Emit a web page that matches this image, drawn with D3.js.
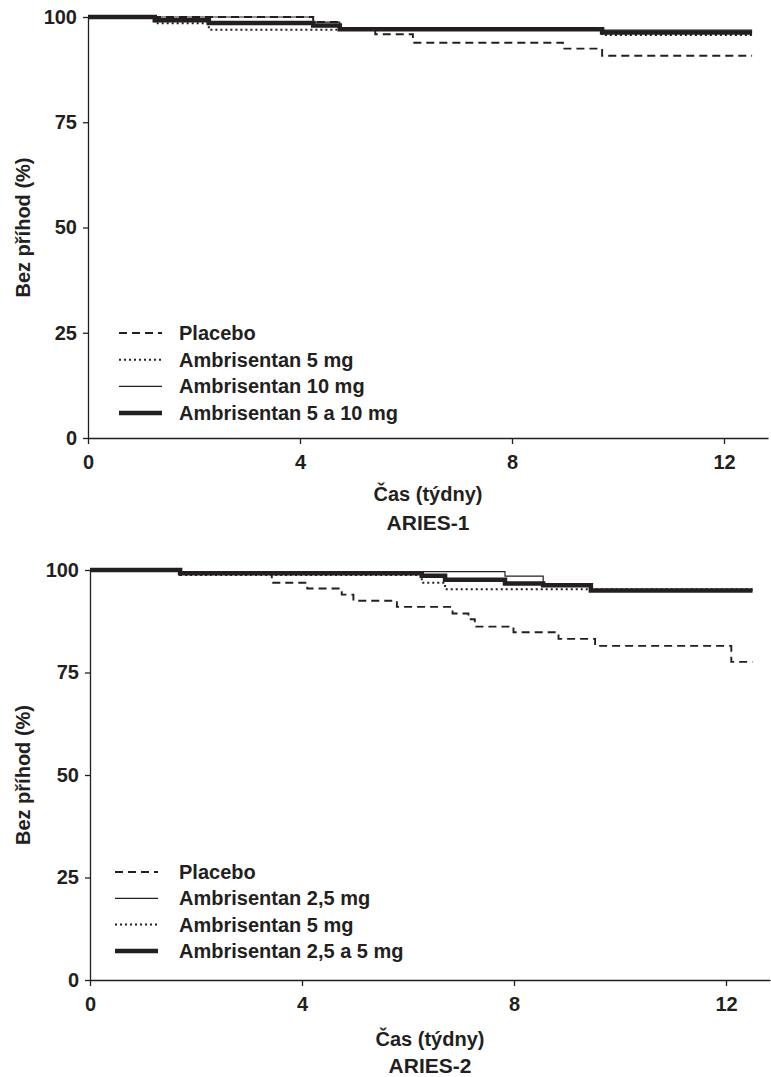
<!DOCTYPE html>
<html>
<head>
<meta charset="utf-8">
<script src="https://cdn.jsdelivr.net/npm/d3@7"></script>
<style>
body { margin: 0; background: #fff; }
text { font-family: "Liberation Sans", Arial, sans-serif; font-weight: bold; fill: #231f20; }
</style>
</head>
<body>
<script>
"use strict";

var weekTicks = [0, 4, 8, 12];
var pctTicks = [0, 25, 50, 75, 100];

// ARIES-1, step points [week, % bez příhod]
var aries1Placebo = [[0, 100], [4.25, 98.8], [4.75, 97.1], [5.42, 95.9], [6.13, 93.9], [8.96, 92.5], [9.7, 90.8], [12.53, 90.8]];
var aries1Amb5 = [[0, 100], [1.26, 98.5], [2.28, 97.0], [9.7, 95.7], [12.53, 95.7]];
var aries1Amb10 = [[0, 100], [4.25, 98.8], [4.75, 97.3], [9.7, 96.9], [12.53, 96.9]];
var aries1Amb5and10 = [[0, 100], [1.26, 99.2], [2.28, 98.6], [4.25, 98.0], [4.75, 97.1], [9.7, 96.3], [12.53, 96.3]];
var aries1Names = ["Placebo", "Ambrisentan 5 mg", "Ambrisentan 10 mg", "Ambrisentan 5 a 10 mg"];

// ARIES-2
var aries2Placebo = [[0, 100], [1.7, 99.0], [3.43, 96.9], [4.1, 95.5], [4.75, 94.0], [4.97, 92.5], [5.79, 91.0], [6.84, 89.4],
    [7.14, 88.0], [7.26, 86.2], [7.99, 84.8], [8.84, 83.2], [9.53, 81.5], [12.1, 77.6], [12.5, 77.6]];
var aries2Amb25 = [[0, 100], [1.7, 99.6], [7.83, 98.5], [8.55, 96.7], [9.45, 95.0], [12.5, 95.0]];
var aries2Amb5 = [[0, 100], [1.7, 98.8], [6.26, 96.9], [6.7, 95.3], [12.5, 95.3]];
var aries2Amb25and5 = [[0, 100], [1.7, 99.2], [6.26, 98.6], [6.7, 97.6], [7.83, 96.7], [8.55, 96.3], [9.45, 95.0], [12.5, 95.0]];
var aries2Names = ["Placebo", "Ambrisentan 2,5 mg", "Ambrisentan 5 mg", "Ambrisentan 2,5 a 5 mg"];

var ink = "#231f20";
var lineStyles = {
    "dash": { width: 1.9, dash: "8,5" },
    "dot": { width: 2, dash: "2,3" },
    "thin": { width: 1.2, dash: null },
    "thick": { width: 4.5, dash: null }
};

var svg = d3.select("body").append("svg")
    .attr("width", 771)
    .attr("height", 1077);

drawPanel({
    left: 88, right: 768, top: 17, bottom: 438,
    legendY: 333, legendStep: 26.7, legendX1: 119, legendX2: 162,
    titleY: 501, nameY: 530, name: "ARIES-1",
    series: [aries1Placebo, aries1Amb5, aries1Amb10, aries1Amb5and10],
    styles: ["dash", "dot", "thin", "thick"],
    names: aries1Names
});

drawPanel({
    left: 90, right: 770, top: 570, bottom: 980,
    legendY: 872, legendStep: 26.3, legendX1: 115, legendX2: 158,
    titleY: 1046, nameY: 1073, name: "ARIES-2",
    series: [aries2Placebo, aries2Amb25, aries2Amb5, aries2Amb25and5],
    styles: ["dash", "thin", "dot", "thick"],
    names: aries2Names
});

function drawPanel(p) {
    var x = d3.scaleLinear().domain([0, 12.83]).range([p.left, p.right]);
    var y = d3.scaleLinear().domain([0, 100]).range([p.bottom, p.top]);

    var g = svg.append("g");

    var xAxis = g.append("g")
        .attr("transform", "translate(0," + p.bottom + ")")
        .call(d3.axisBottom(x).tickValues(weekTicks).tickSize(6).tickSizeOuter(0).tickPadding(11));
    var yAxis = g.append("g")
        .attr("transform", "translate(" + p.left + ",0)")
        .call(d3.axisLeft(y).tickValues(pctTicks).tickSize(5).tickSizeOuter(0).tickPadding(6));

    [xAxis, yAxis].forEach(function(a) {
        a.selectAll("path, line").attr("stroke", ink).attr("stroke-width", 1.3);
        a.selectAll("text")
            .attr("font-size", 20)
            .attr("font-family", "Liberation Sans, Arial, sans-serif")
            .attr("font-weight", "bold")
            .attr("fill", ink);
    });

    var line = d3.line()
        .x(function(d) { return x(d[0]); })
        .y(function(d) { return y(d[1]); })
        .curve(d3.curveStepAfter);

    p.series.forEach(function(data, i) {
        var st = lineStyles[p.styles[i]];
        g.append("path")
            .datum(data)
            .attr("fill", "none")
            .attr("stroke", ink)
            .attr("stroke-width", st.width)
            .attr("stroke-dasharray", st.dash)
            .attr("d", line);
    });

    // legend
    var legend = g.append("g").selectAll("g")
        .data(p.names)
        .enter()
        .append("g")
        .attr("transform", function(d, i) { return "translate(0," + (p.legendY + i * p.legendStep) + ")"; });
    legend.append("line")
        .attr("x1", p.legendX1)
        .attr("x2", p.legendX2)
        .attr("stroke", ink)
        .attr("stroke-width", function(d, i) { return lineStyles[p.styles[i]].width; })
        .attr("stroke-dasharray", function(d, i) { return lineStyles[p.styles[i]].dash; });
    legend.append("text")
        .attr("x", 179)
        .attr("dy", "0.35em")
        .attr("font-size", 20)
        .text(function(d) { return d; });

    // axis titles
    var cx = (p.left + p.right) / 2;
    g.append("text")
        .attr("x", cx)
        .attr("y", p.titleY)
        .attr("text-anchor", "middle")
        .attr("font-size", 20)
        .text("Čas (týdny)");
    g.append("text")
        .attr("x", cx)
        .attr("y", p.nameY)
        .attr("text-anchor", "middle")
        .attr("font-size", 21)
        .text(p.name);
    g.append("text")
        .attr("transform", "translate(30," + ((p.top + p.bottom) / 2) + ") rotate(-90)")
        .attr("text-anchor", "middle")
        .attr("font-size", 20)
        .text("Bez příhod (%)");
}
</script>
</body>
</html>
